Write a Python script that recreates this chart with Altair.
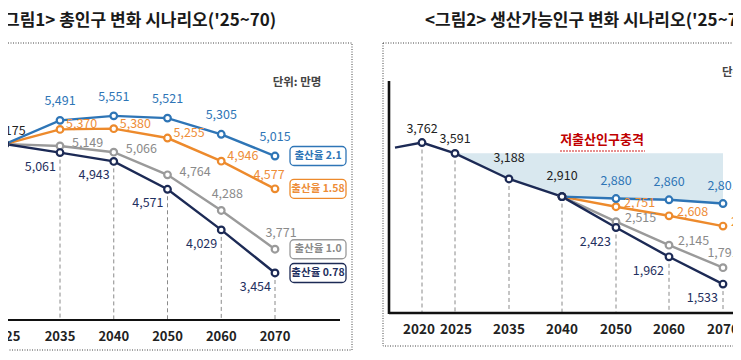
import altair as alt
import pandas as pd

# ---------------- data ----------------
SERIES = ["출산율 2.1", "출산율 1.58", "출산율 1.0", "출산율 0.78"]

LEFT_YEARS = [2025, 2035, 2040, 2050, 2060, 2070]
LEFT_TFR21 = [5175, 5491, 5551, 5521, 5305, 5015]
LEFT_TFR158 = [5175, 5370, 5380, 5255, 4946, 4577]
LEFT_TFR10 = [5175, 5149, 5066, 4764, 4288, 3771]
LEFT_TFR078 = [5175, 5061, 4943, 4571, 4029, 3454]

RIGHT_COMMON_YEARS = [2015, 2020, 2025, 2035, 2040]
RIGHT_COMMON = [3682, 3762, 3591, 3188, 2910]
RIGHT_SCEN_YEARS = [2040, 2050, 2060, 2070]
RIGHT_TFR21 = [2910, 2880, 2860, 2801]
RIGHT_TFR158 = [2910, 2751, 2608, 2446]
RIGHT_TFR10 = [2910, 2515, 2145, 1791]
RIGHT_TFR078 = [2910, 2423, 1962, 1533]

RIGHT_TICK_YEARS = [2020, 2025, 2035, 2040, 2050, 2060, 2070]

TITLE_LEFT = "<그림1> 총인구 변화 시나리오('25~70)"
TITLE_RIGHT = "<그림2> 생산가능인구 변화 시나리오('25~70)"
UNIT = "단위: 만명"
SHOCK = "저출산인구충격"

# ---------------- style ----------------
FONT = "Noto Sans CJK KR"
LINE_COLORS = ["#2e75b6", "#ed8a2c", "#9a9a9a", "#1c2a55"]
TEXT_COLORS = ["#2e75b6", "#ee8d38", "#8a8a8a", "#1f3060"]
W, H = 725, 344

# category-like (unevenly spaced) year axes, as piecewise linear scales
LX = dict(domain=[2025, 2035, 2040, 2050, 2060, 2070],
          range=[-3, 52, 105.75, 159.5, 213.25, 267])
LY = dict(domain=[2800, 6000], range=[314.0, 74.2])
RX = dict(domain=[2015, 2020, 2025, 2035, 2040, 2050, 2060, 2070],
          range=[387, 414, 447, 501, 554, 608, 661, 715])
RY = dict(domain=[1000, 5000], range=[309.9, 55.9])


def X(s):
    return alt.X("year:Q", scale=alt.Scale(zero=False, nice=False, **s), axis=None)


def Y(s, field="value"):
    return alt.Y(f"{field}:Q", scale=alt.Scale(zero=False, nice=False, **s), axis=None)


def long(years, arrays):
    rows = []
    for name, arr in zip(SERIES, arrays):
        for yr, v in zip(years, arr):
            rows.append({"series": name, "year": yr, "value": v})
    return pd.DataFrame(rows)


left = long(LEFT_YEARS, [LEFT_TFR21, LEFT_TFR158, LEFT_TFR10, LEFT_TFR078])
right_scen = long(RIGHT_SCEN_YEARS, [RIGHT_TFR21, RIGHT_TFR158, RIGHT_TFR10, RIGHT_TFR078])
right_common = pd.DataFrame({"series": SERIES[3], "year": RIGHT_COMMON_YEARS, "value": RIGHT_COMMON})

line_color = alt.Scale(domain=SERIES, range=LINE_COLORS)
text_color = alt.Scale(domain=SERIES, range=TEXT_COLORS)


def lines(df, xs, ys):
    return alt.Chart(df).mark_line(strokeWidth=2.4).encode(
        x=X(xs), y=Y(ys), color=alt.Color("series:N", scale=line_color, legend=None),
        detail="series:N")


def points(df, xs, ys):
    return alt.Chart(df).mark_point(shape="circle", filled=True, fill="white", size=44,
                                    strokeWidth=2.2, opacity=1).encode(
        x=X(xs), y=Y(ys), stroke=alt.Stroke("series:N", scale=line_color, legend=None))


def labels(df, xs, ys, align, dx, dy, color=None, size=12.5):
    kw = dict(align=align, baseline="middle", dx=dx, dy=dy, font=FONT, fontSize=size)
    enc = dict(x=X(xs), y=Y(ys), text=alt.Text("value:Q", format=","))
    if color:
        kw["color"] = color
    else:
        enc["color"] = alt.Color("series:N", scale=text_color, legend=None)
    return alt.Chart(df).mark_text(**kw).encode(**enc)


def sel(df, series=None, years=None):
    d = df
    if series is not None:
        d = d[d.series == series]
    if years is not None:
        d = d[d.year.isin(years)]
    return d


one = pd.DataFrame({"k": [0]})


def deco_text(text, x, y, size, color, weight="normal", align="left"):
    return alt.Chart(pd.DataFrame({"t": [text]})).mark_text(
        align=align, baseline="middle", font=FONT, fontSize=size, fontWeight=weight, color=color
    ).encode(x=alt.value(x), y=alt.value(y), text="t:N")


def box(x, x2, y, y2):
    return alt.Chart(one).mark_rect(fillOpacity=0, stroke="#444", strokeWidth=1,
                                    strokeDash=[1, 1.5]).encode(
        x=alt.value(x), x2=alt.value(x2), y=alt.value(y), y2=alt.value(y2))


def rule(x, x2, y, y2, width=2.2, color="#111", dash=None):
    kw = dict(color=color, strokeWidth=width)
    if dash:
        kw["strokeDash"] = dash
    return alt.Chart(one).mark_rule(**kw).encode(
        x=alt.value(x), x2=alt.value(x2), y=alt.value(y), y2=alt.value(y2))


def ticks(years, xs, y, size, dx=0):
    return alt.Chart(pd.DataFrame({"year": years})).mark_text(
        font=FONT, fontSize=size, fontWeight="bold", color="#222", baseline="middle", dx=dx
    ).encode(x=X(xs), y=alt.value(y), text="year:N")


layers = []

# ---------- left panel ----------
layers.append(box(-10, 344, 35, 342))
layers.append(deco_text(TITLE_LEFT, -14, 13, 17, "#1a1a1a", "bold"))
layers.append(deco_text(UNIT, 289, 75, 11.5, "#444", "bold", "center"))

lmin = left.groupby("year", as_index=False)["value"].min()
layers.append(alt.Chart(lmin).mark_rule(color="#8a8a8a", strokeWidth=1, strokeDash=[4, 3]).encode(
    x=X(LX), y=Y(LY), y2=alt.value(312)))
layers.append(rule(-10, 332, 312, 312, 2.2))

lorder = [SERIES[2], SERIES[1], SERIES[0], SERIES[3]]
for s in lorder:
    layers.append(lines(sel(left, s), LX, LY))
for s in lorder:
    layers.append(points(sel(left, s), LX, LY))

later = [2035, 2040, 2050, 2060, 2070]
layers.append(labels(sel(left, SERIES[3], [2025]), LX, LY, "center", 5, -13, color="#222"))
layers.append(labels(sel(left, SERIES[0], later), LX, LY, "center", 0, -19))
layers.append(labels(sel(left, SERIES[1], [2035, 2040, 2050, 2060]), LX, LY, "left", 6, -5))
layers.append(labels(sel(left, SERIES[1], [2070]), LX, LY, "center", -6, -14))
layers.append(labels(sel(left, SERIES[2], [2035, 2040, 2050]), LX, LY, "left", 12, -3))
layers.append(labels(sel(left, SERIES[2], [2060, 2070]), LX, LY, "center", 6, -16))
layers.append(labels(sel(left, SERIES[3], later), LX, LY, "right", -4, 14))

# legend boxes at line ends
lend = sel(left, None, [2070])
layers.append(alt.Chart(lend).mark_rect(width=56, height=19, cornerRadius=4, fill="white",
                                        strokeWidth=1.3, xOffset=43).encode(
    x=X(LX), y=Y(LY), stroke=alt.Stroke("series:N", scale=line_color, legend=None)))
layers.append(alt.Chart(lend).mark_text(font=FONT, fontSize=10.5, fontWeight="bold",
                                        baseline="middle", align="center", dx=43).encode(
    x=X(LX), y=Y(LY), text="series:N",
    color=alt.Color("series:N", scale=text_color, legend=None)))

layers.append(ticks(LEFT_YEARS, LX, 329, 13))

# ---------- right panel ----------
layers.append(box(375, 760, 35, 338))
layers.append(deco_text(TITLE_RIGHT, 417, 13, 17, "#1a1a1a", "bold"))
layers.append(deco_text(UNIT, 714, 65, 11.5, "#444", "bold", "left"))

# shaded "shock" area: from 2025 level down to the 2.1 path
shade_years = [y for y in RIGHT_COMMON_YEARS if y >= 2025] + RIGHT_SCEN_YEARS[1:]
shade_low = [v for y, v in zip(RIGHT_COMMON_YEARS, RIGHT_COMMON) if y >= 2025] + RIGHT_TFR21[1:]
shade = pd.DataFrame({"year": shade_years, "low": shade_low,
                      "top": RIGHT_COMMON[RIGHT_COMMON_YEARS.index(2025)]})
layers.append(alt.Chart(shade).mark_area(color="#d9e8ef", opacity=1).encode(
    x=X(RX), y=Y(RY, "top"), y2="low:Q"))

layers.append(deco_text(SHOCK, 594, 132, 13, "#c00000", "bold", "center"))
layers.append(rule(552, 637, 143, 143, 1.2, "#d02020", [2, 1]))

rall = pd.concat([right_common[right_common.year >= 2020], right_scen])
rmin = rall.groupby("year", as_index=False)["value"].min()
layers.append(alt.Chart(rmin).mark_rule(color="#8a8a8a", strokeWidth=1, strokeDash=[4, 3]).encode(
    x=X(RX), y=Y(RY), y2=alt.value(305)))
layers.append(rule(381, 740, 305, 305, 2.6))
layers.append(rule(381, 381, 73, 306, 2.6))

for s in lorder:
    layers.append(lines(sel(right_scen, s), RX, RY))
layers.append(lines(right_common, RX, RY))
for s in lorder:
    layers.append(points(sel(right_scen, s), RX, RY))
layers.append(points(right_common[right_common.year >= 2020], RX, RY))

layers.append(labels(right_common[right_common.year.isin([2020, 2025])], RX, RY, "center", 0, -14, color="#222"))
layers.append(labels(right_common[right_common.year.isin([2035, 2040])], RX, RY, "center", 0, -21, color="#222"))
rlater = [2050, 2060, 2070]
layers.append(labels(sel(right_scen, SERIES[0], rlater), RX, RY, "center", 0, -18))
layers.append(labels(sel(right_scen, SERIES[1], rlater), RX, RY, "left", 8, -4))
layers.append(labels(sel(right_scen, SERIES[2], [2050, 2060]), RX, RY, "left", 9, -4))
layers.append(labels(sel(right_scen, SERIES[2], [2070]), RX, RY, "center", 0, -15))
layers.append(labels(sel(right_scen, SERIES[3], rlater), RX, RY, "right", -5, 14))

layers.append(ticks([2020], RX, 322, 13.5, dx=-3))
layers.append(ticks(RIGHT_TICK_YEARS[1:2], RX, 322, 13.5, dx=1))
layers.append(ticks(RIGHT_TICK_YEARS[2:], RX, 322, 13.5))

chart = alt.layer(*layers).resolve_scale(
    x="independent", y="independent", color="independent", stroke="independent"
).properties(
    width=W, height=H, padding=0, autosize=alt.AutoSizeParams(type="none"),
    background="white"
).configure_view(stroke=None)

chart.save("out.html", embed_options={"renderer": "svg", "actions": False})
